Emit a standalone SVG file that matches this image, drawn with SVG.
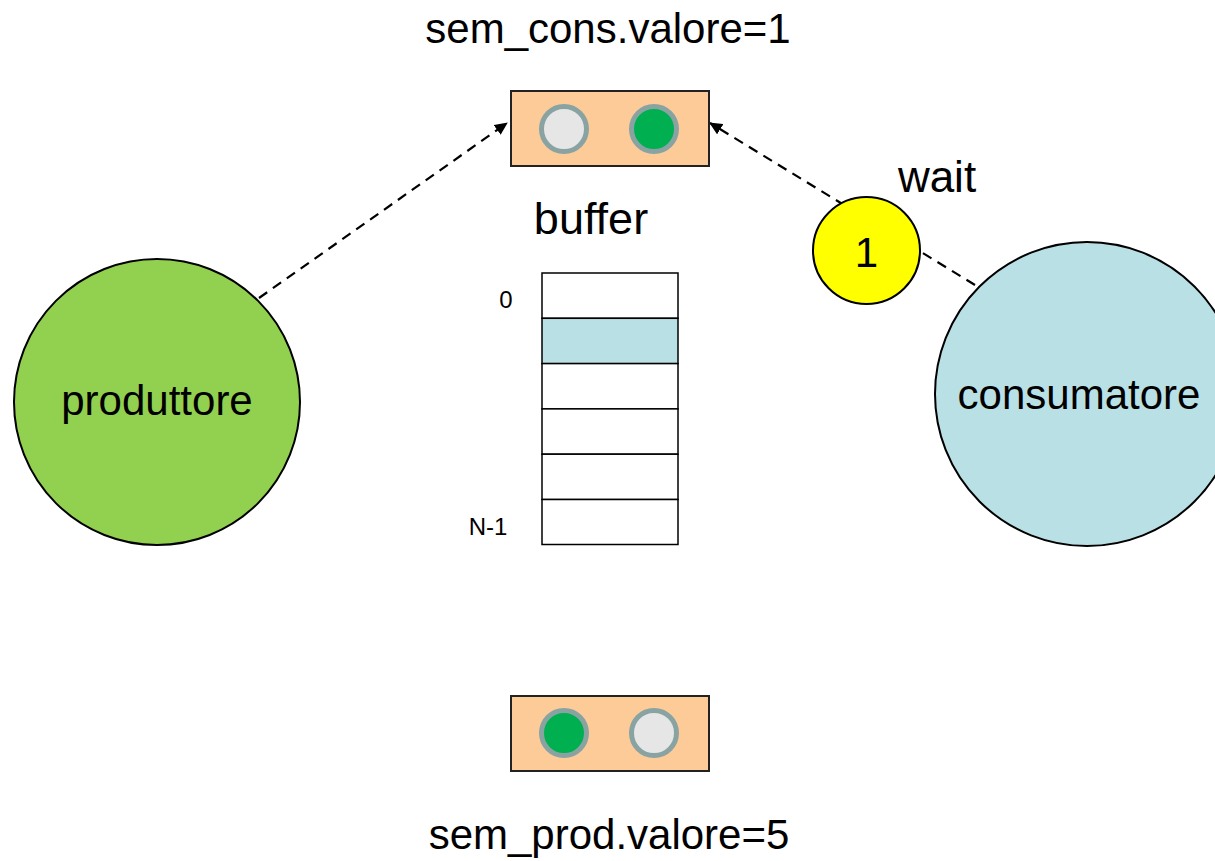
<svg xmlns="http://www.w3.org/2000/svg" width="1215" height="861" viewBox="0 0 1215 861">
<defs>
<style>
text{font-family:"Liberation Sans",Arial,sans-serif;fill:#000}
.big{font-size:42px}
.small{font-size:24px}
.box{fill:#fdcb98;stroke:#222;stroke-width:2}
.lamp{stroke:#89a3a3;stroke-width:5}
.on{fill:#00b050}
.off{fill:#e6e6e6}
.cell{fill:#fff;stroke:#000;stroke-width:1.5}
.dash{fill:none;stroke:#000;stroke-width:2.2;stroke-dasharray:10,7}
</style>
<marker id="arr" markerWidth="13" markerHeight="12" refX="12" refY="6" orient="auto" markerUnits="userSpaceOnUse" viewBox="0 0 13 12">
<path d="M0,0 L13,6 L0,12 Z" fill="#000"/>
</marker>
</defs>
<rect width="1215" height="861" fill="#fff"/>

<g id="connectors">
<line class="dash" x1="259" y1="298" x2="507" y2="123" marker-end="url(#arr)"/>
<line class="dash" x1="975" y1="285" x2="710" y2="123" marker-end="url(#arr)"/>
</g>

<g id="sem_cons">
<rect class="box" x="511" y="91" width="198" height="75"/>
<circle class="lamp off" cx="564" cy="129" r="22.5"/>
<circle class="lamp on" cx="654" cy="129" r="22.5"/>
<text class="big" x="608" y="43" text-anchor="middle">sem_cons.valore=1</text>
</g>

<g id="sem_prod">
<rect class="box" x="511" y="696" width="198" height="75"/>
<circle class="lamp on" cx="564" cy="733" r="22.5"/>
<circle class="lamp off" cx="654" cy="733" r="22.5"/>
<text class="big" x="609" y="849" text-anchor="middle">sem_prod.valore=5</text>
</g>

<g id="produttore">
<circle cx="157" cy="402" r="143" fill="#92d050" stroke="#000" stroke-width="2"/>
<text class="big" x="157" y="415" text-anchor="middle">produttore</text>
</g>

<g id="consumatore">
<circle cx="1087" cy="394" r="152" fill="#b9e0e4" stroke="#000" stroke-width="2"/>
<text class="big" x="1079" y="409" text-anchor="middle">consumatore</text>
</g>

<g id="wait">
<circle cx="866.5" cy="250.5" r="53.5" fill="#ffff00" stroke="#000" stroke-width="2"/>
<text class="big" x="866.5" y="267" text-anchor="middle">1</text>
<text style="font-size:44px" x="937" y="192" text-anchor="middle">wait</text>
</g>

<g id="buffer">
<text style="font-size:45px" x="591" y="234" text-anchor="middle">buffer</text>
<rect class="cell" x="542" y="273" width="136" height="45.3"/>
<rect class="cell" x="542" y="318.3" width="136" height="45.3" style="fill:#b9e0e4"/>
<rect class="cell" x="542" y="363.6" width="136" height="45.3"/>
<rect class="cell" x="542" y="408.9" width="136" height="45.3"/>
<rect class="cell" x="542" y="454.2" width="136" height="45.3"/>
<rect class="cell" x="542" y="499.5" width="136" height="45"/>
<text class="small" x="506" y="308" text-anchor="middle">0</text>
<text class="small" x="488" y="535" text-anchor="middle">N-1</text>
</g>
</svg>
